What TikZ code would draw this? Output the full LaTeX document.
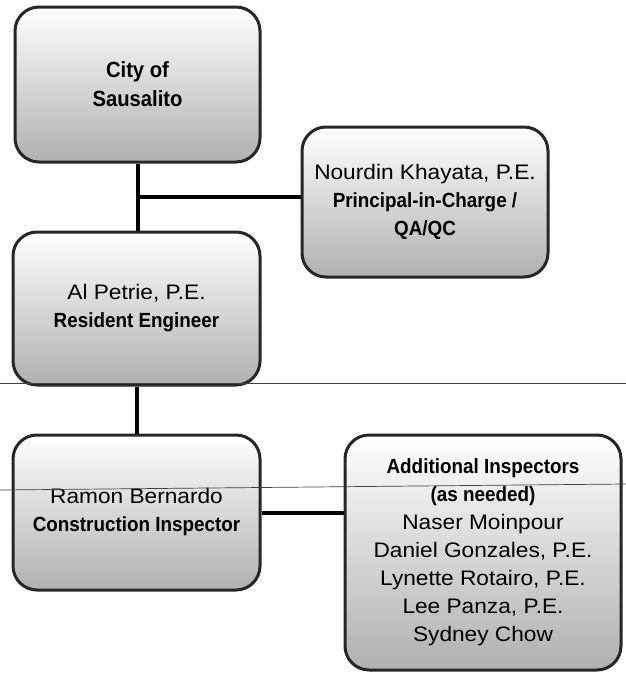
\documentclass[tikz,border=0pt]{standalone}
\usepackage{fontspec}
\usepackage{tikz}
\usetikzlibrary{positioning}
\setmainfont{Liberation Sans}
\newfontfamily\namefnt[FakeStretch=1.08]{Liberation Sans}
\newfontfamily\rolefnt[FakeStretch=0.92]{Liberation Sans}
\newcommand\role{\rolefnt\bfseries\fontsize{20.5pt}{28pt}\selectfont}
\newcommand\bigrole{\rolefnt\bfseries\fontsize{22pt}{29pt}\selectfont}

\begin{document}
\begin{tikzpicture}[x=1pt,y=-1pt]
\tikzstyle{box}=[rectangle,rounded corners=24pt,draw=black!85,line width=3pt,top color=white,middle color=gray!14,bottom color=gray!62,align=center,inner sep=0pt,font={\namefnt\fontsize{21pt}{28pt}\selectfont}]
\tikzstyle{link}=[line width=4pt,black]
\tikzstyle{scanline}=[line width=0.7pt,black!75]
\useasboundingbox (0,0) rectangle (626,673);

\node [box] (city) at(137.5,84.5)[minimum width=245pt,minimum height=155pt,font=\bigrole] {City of\\Sausalito};
\node [box] (nourdin) at(425,202)[minimum width=246pt,minimum height=150pt] {Nourdin Khayata, P.E.\\{\role Principal-in-Charge /}\\{\role QA/QC}};
\node [box] (al) at(136.5,308.5)[minimum width=247pt,minimum height=153pt] {Al Petrie, P.E.\\{\role Resident Engineer}};
\node [box] (ramon) at(136.5,512.5)[minimum width=247pt,minimum height=155pt] {Ramon Bernardo\\{\role Construction Inspector}};
\node [box] (extra) at(483,552.5)[minimum width=276pt,minimum height=235pt] {{\role Additional Inspectors}\\{\role (as needed)}\\Naser Moinpour\\Daniel Gonzales, P.E.\\Lynette Rotairo, P.E.\\Lee Panza, P.E.\\Sydney Chow};

\coordinate (tee) at(137.5,197);
\draw [link] (city.south) -- (city.south |- al.north);
\draw [link] (tee) -- (nourdin.west |- tee);
\draw [link] (al.south) -- (ramon.north);
\draw [link] (ramon.east) -- (extra.west |- ramon.east);

\draw [scanline] (0,383) -- (626,383);
\draw [scanline] (0,490) -- (626,484);
\end{tikzpicture}
\end{document}
